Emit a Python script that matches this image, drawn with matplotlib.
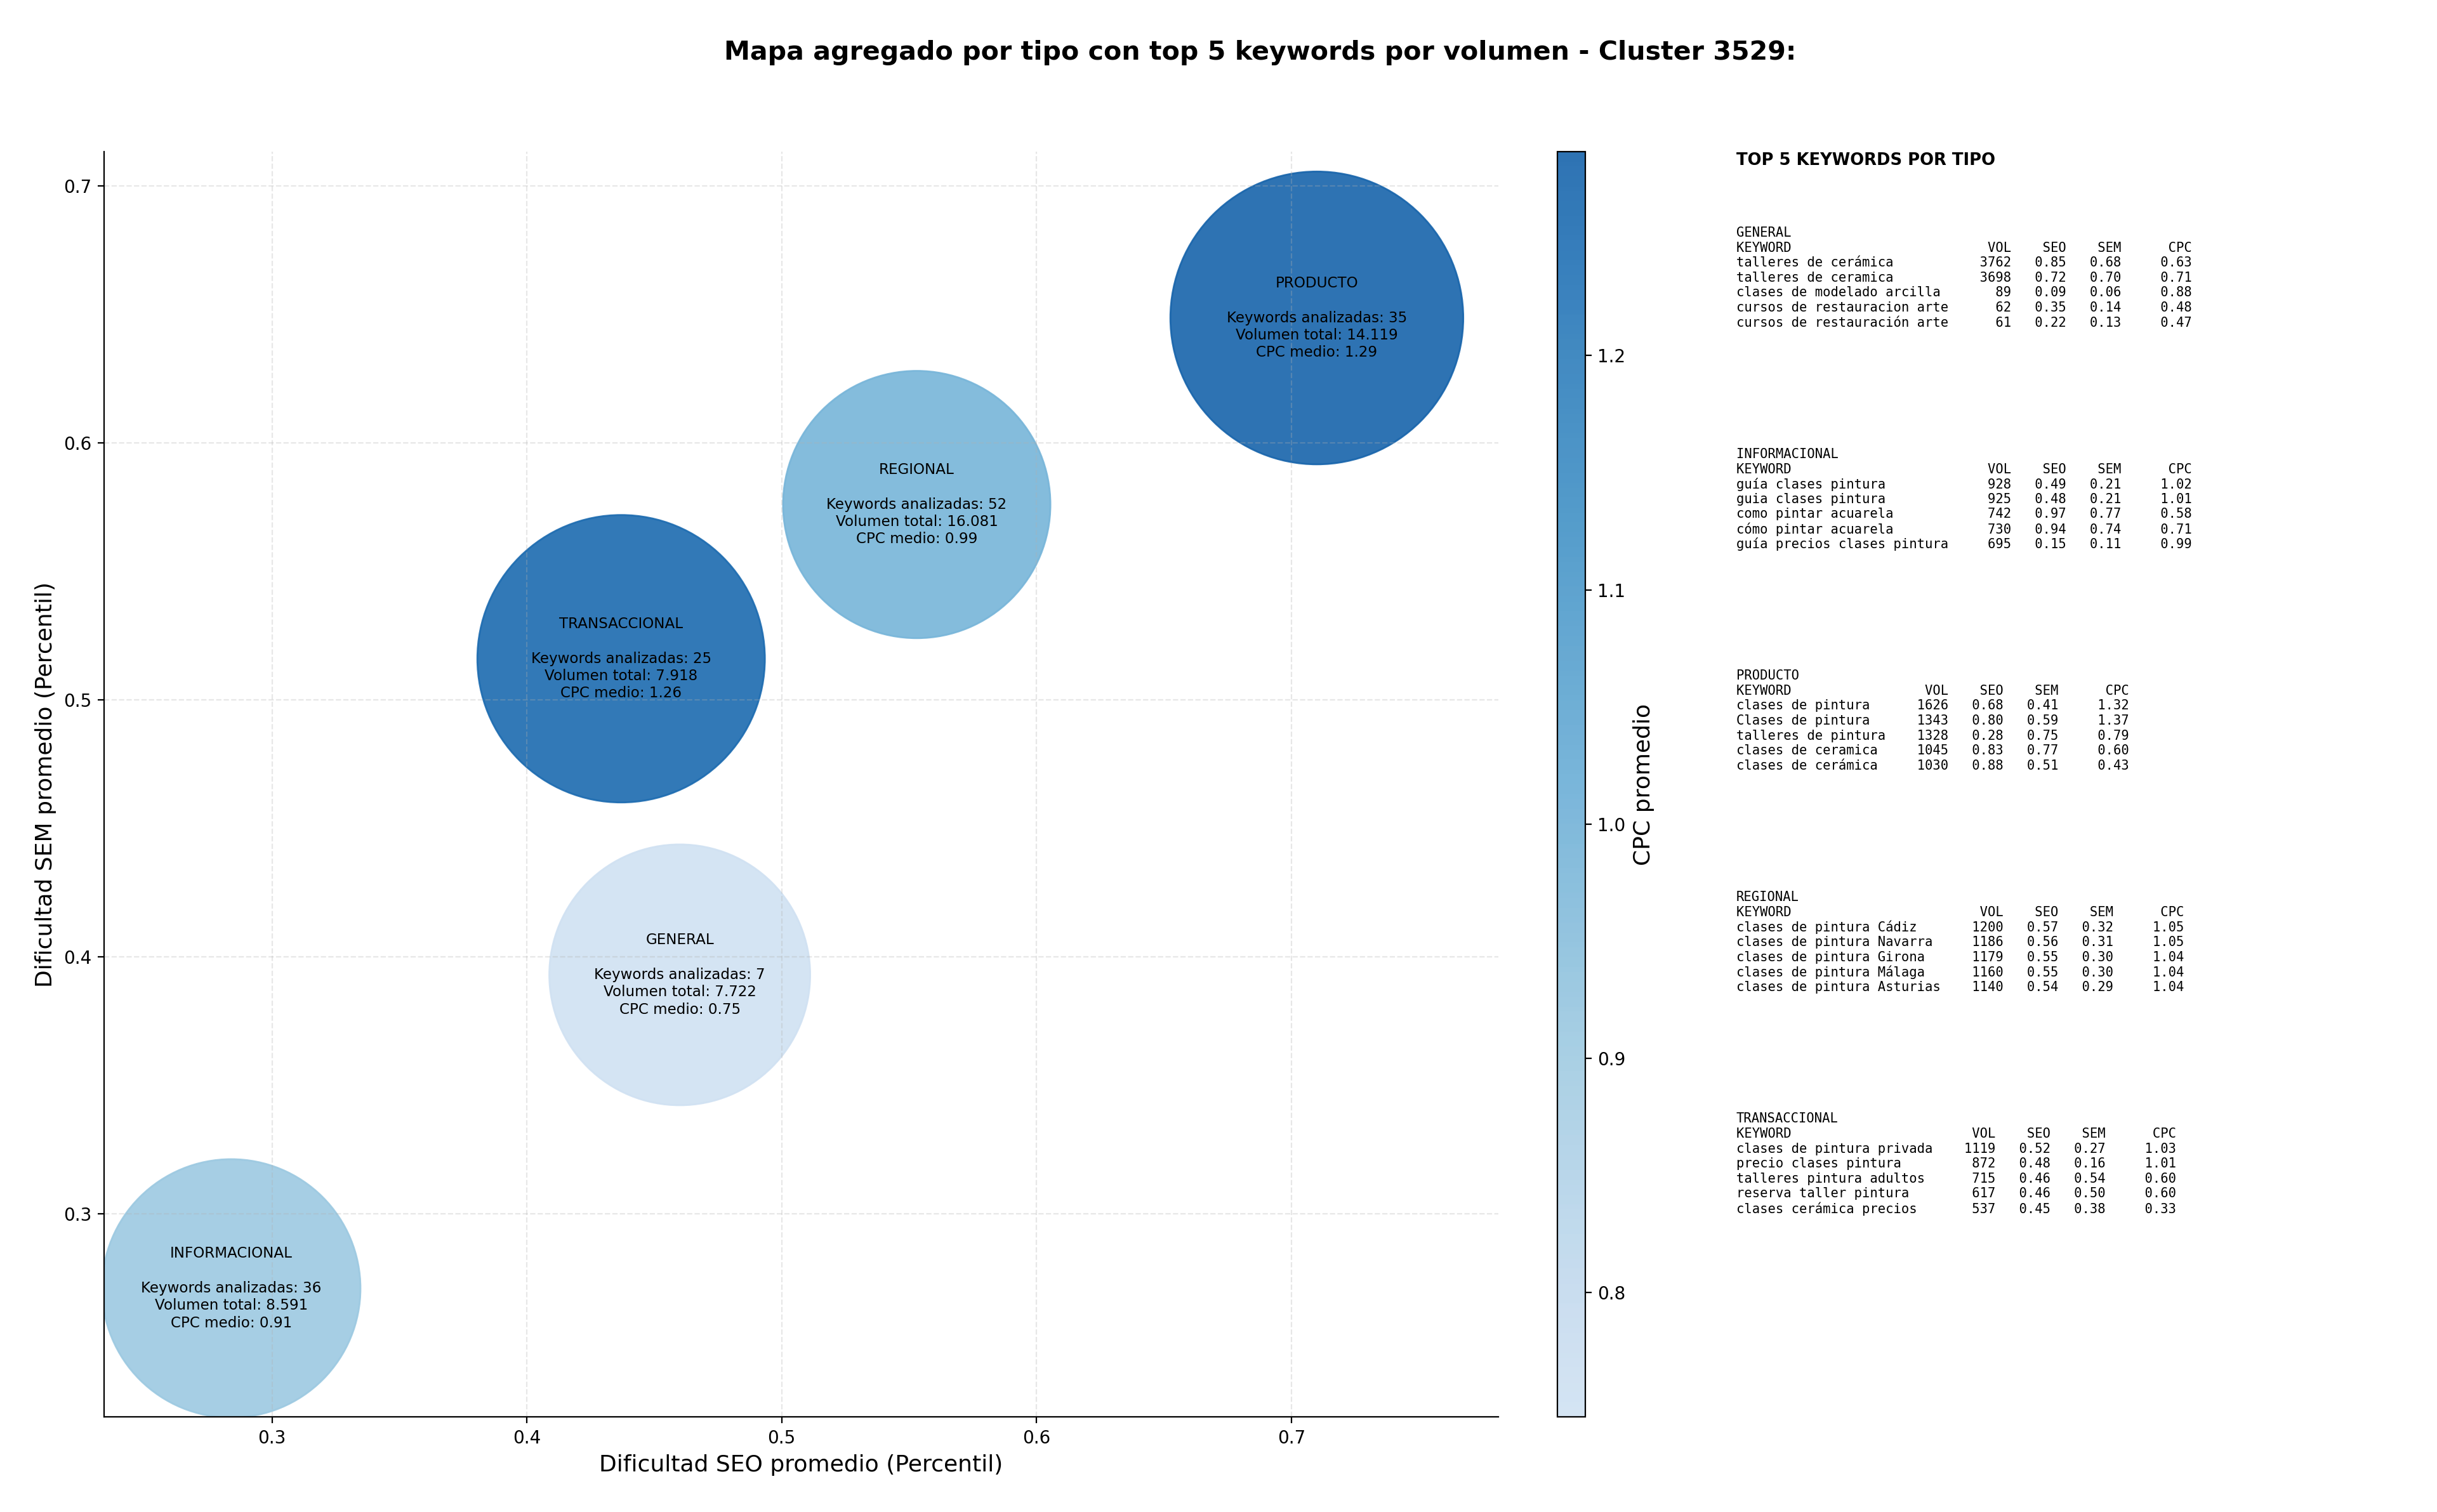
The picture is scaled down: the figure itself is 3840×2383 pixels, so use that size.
import numpy as np
import matplotlib
matplotlib.use("Agg")
import matplotlib.pyplot as plt
from matplotlib.colors import LinearSegmentedColormap

# ---------------- data ----------------
tipos = ["GENERAL", "INFORMACIONAL", "PRODUCTO", "REGIONAL", "TRANSACCIONAL"]
seo_medio = [0.460, 0.284, 0.710, 0.553, 0.437]
sem_medio = [0.393, 0.271, 0.6486, 0.576, 0.516]
n_keywords = [7, 36, 35, 52, 25]
volumen_total = [7722, 8591, 14119, 16081, 7918]
cpc_medio = [0.747, 0.910, 1.287, 0.990, 1.260]
bubble_area = [21900, 21500, 27600, 23000, 26600]

kw_general = ["talleres de cerámica", "talleres de ceramica", "clases de modelado arcilla",
              "cursos de restauracion arte", "cursos de restauración arte"]
vol_general = [3762, 3698, 89, 62, 61]
seo_general = [0.85, 0.72, 0.09, 0.35, 0.22]
sem_general = [0.68, 0.70, 0.06, 0.14, 0.13]
cpc_general = [0.63, 0.71, 0.88, 0.48, 0.47]

kw_info = ["guía clases pintura", "guia clases pintura", "como pintar acuarela",
           "cómo pintar acuarela", "guía precios clases pintura"]
vol_info = [928, 925, 742, 730, 695]
seo_info = [0.49, 0.48, 0.97, 0.94, 0.15]
sem_info = [0.21, 0.21, 0.77, 0.74, 0.11]
cpc_info = [1.02, 1.01, 0.58, 0.71, 0.99]

kw_prod = ["clases de pintura", "Clases de pintura", "talleres de pintura",
           "clases de ceramica", "clases de cerámica"]
vol_prod = [1626, 1343, 1328, 1045, 1030]
seo_prod = [0.68, 0.80, 0.28, 0.83, 0.88]
sem_prod = [0.41, 0.59, 0.75, 0.77, 0.51]
cpc_prod = [1.32, 1.37, 0.79, 0.60, 0.43]

kw_reg = ["clases de pintura Cádiz", "clases de pintura Navarra", "clases de pintura Girona",
          "clases de pintura Málaga", "clases de pintura Asturias"]
vol_reg = [1200, 1186, 1179, 1160, 1140]
seo_reg = [0.57, 0.56, 0.55, 0.55, 0.54]
sem_reg = [0.32, 0.31, 0.30, 0.30, 0.29]
cpc_reg = [1.05, 1.05, 1.04, 1.04, 1.04]

kw_trans = ["clases de pintura privada", "precio clases pintura", "talleres pintura adultos",
            "reserva taller pintura", "clases cerámica precios"]
vol_trans = [1119, 872, 715, 617, 537]
seo_trans = [0.52, 0.48, 0.46, 0.46, 0.45]
sem_trans = [0.27, 0.16, 0.54, 0.50, 0.38]
cpc_trans = [1.03, 1.01, 0.60, 0.60, 0.33]

top_kw = {
    "GENERAL": (kw_general, vol_general, seo_general, sem_general, cpc_general),
    "INFORMACIONAL": (kw_info, vol_info, seo_info, sem_info, cpc_info),
    "PRODUCTO": (kw_prod, vol_prod, seo_prod, sem_prod, cpc_prod),
    "REGIONAL": (kw_reg, vol_reg, seo_reg, sem_reg, cpc_reg),
    "TRANSACCIONAL": (kw_trans, vol_trans, seo_trans, sem_trans, cpc_trans),
}

# ---------------- figure ----------------
W, H, DPI = 3840, 2383, 200
fig = plt.figure(figsize=(W / DPI, H / DPI), dpi=DPI)

ax = fig.add_axes([0.0427, 0.0629, 0.5721, 0.8368])
cmap = LinearSegmentedColormap.from_list("blues_t", plt.cm.Blues(np.linspace(0.2, 0.8, 256)))

sc = ax.scatter(seo_medio, sem_medio, s=bubble_area, c=cpc_medio, cmap=cmap,
                alpha=0.9, edgecolors="face")

for t, x, y, n, v, c in zip(tipos, seo_medio, sem_medio, n_keywords, volumen_total, cpc_medio):
    vs = f"{v:,}".replace(",", ".")
    ax.text(x, y, f"{t}\n\nKeywords analizadas: {n}\nVolumen total: {vs}\nCPC medio: {c:.2f}",
            ha="center", va="center", fontsize=8.3, linespacing=1.24)

ax.set_xlim(0.2341, 0.7812)
ax.set_ylim(0.221, 0.7133)
ax.set_xticks([0.3, 0.4, 0.5, 0.6, 0.7])
ax.set_yticks([0.3, 0.4, 0.5, 0.6, 0.7])
ax.tick_params(labelsize=10)
ax.grid(True, linestyle="--", alpha=0.3)
ax.spines["top"].set_visible(False)
ax.spines["right"].set_visible(False)
ax.set_xlabel("Dificultad SEO promedio (Percentil)", fontsize=13)
ax.set_ylabel("Dificultad SEM promedio (Percentil)", fontsize=13)

cax = fig.add_axes([0.639, 0.0629, 0.0115, 0.8368])
cb = fig.colorbar(sc, cax=cax)
cb.set_label("CPC promedio", fontsize=13)
cb.ax.tick_params(labelsize=10)

fig.text(0.517, 0.965, "Mapa agregado por tipo con top 5 keywords por volumen - Cluster 3529:",
         ha="center", va="center", fontsize=14.8, fontweight="bold")

# ---------------- keyword panel ----------------
px = 0.7125
fig.text(px, 0.894, "TOP 5 KEYWORDS POR TIPO", fontsize=9.3, fontweight="bold", va="center")
line_step = 23.6 / H
for i, t in enumerate(tipos):
    kws, vols, seos, sems, cpcs = top_kw[t]
    w = max(len(k) for k in kws) + 2
    lines = [t, "KEYWORD".ljust(w) + "VOL".rjust(6) + "SEO".rjust(7) + "SEM".rjust(7) + "CPC".rjust(9)]
    for k, v, s1, s2, c in zip(kws, vols, seos, sems, cpcs):
        lines.append(f"{k:<{w}}{v:>6}{s1:>7.2f}{s2:>7.2f}{c:>9.2f}")
    y0 = 0.846 - i * 0.1465
    for j, ln in enumerate(lines):
        fig.text(px, y0 - j * line_step, ln, family="DejaVu Sans Mono", fontsize=7.4, va="center")

fig.savefig("out.png", dpi=DPI)
